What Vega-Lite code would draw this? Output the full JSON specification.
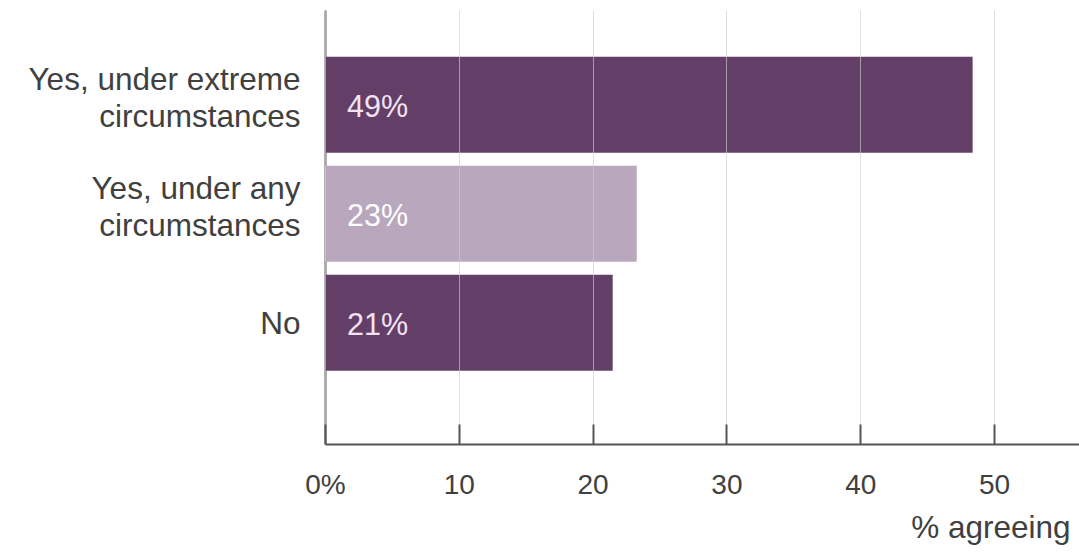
{
  "$schema": "https://vega.github.io/schema/vega-lite/v6.json",
  "width": 754,
  "height": 434,
  "autosize": {"type": "none"},
  "padding": {"left": 325, "top": 10, "right": 0, "bottom": 112},
  "background": "white",
  "config": {"view": {"stroke": null}, "font": "Liberation Sans"},
  "data": {
    "values": [
      {"answer": "Yes, under extreme circumstances", "pct": 48.4, "label": "49%"},
      {"answer": "Yes, under any circumstances", "pct": 23.3, "label": "23%"},
      {"answer": "No", "pct": 21.5, "label": "21%"}
    ]
  },
  "encoding": {
    "y": {
      "field": "answer",
      "type": "nominal",
      "sort": null,
      "scale": {"paddingInner": 0.12, "paddingOuter": 0.55, "align": 0.39},
      "axis": {
        "title": null,
        "ticks": false,
        "domainColor": "#666666",
        "domainWidth": 2,
        "labelPadding": 25,
        "labelFontSize": 31.5,
        "labelColor": "#404040",
        "labelLineHeight": 37,
        "labelLimit": 400,
        "labelOffset": {"condition": {"test": "datum.value != 'No'", "value": -24}, "value": 2},
        "labelExpr": "datum.value == 'Yes, under extreme circumstances' ? ['Yes, under extreme', 'circumstances'] : datum.value == 'Yes, under any circumstances' ? ['Yes, under any', 'circumstances'] : datum.value"
      }
    }
  },
  "layer": [
    {
      "mark": {"type": "bar"},
      "encoding": {
        "x": {
          "field": "pct",
          "type": "quantitative",
          "scale": {"domain": [0, 56.35], "nice": false},
          "axis": {
            "values": [0, 10, 20, 30, 40, 50],
            "labelExpr": "datum.value == 0 ? '0%' : datum.label",
            "labelFlush": false,
            "tickSize": -20,
            "tickColor": "#555555",
            "tickWidth": 2,
            "domainColor": "#555555",
            "domainWidth": 2,
            "grid": true,
            "gridColor": "#cccccc",
            "gridOpacity": 0.65,
            "zindex": 1,
            "labelFontSize": 28,
            "labelColor": "#404040",
            "labelPadding": 47,
            "title": "% agreeing",
            "titleFontSize": 31.5,
            "titleFontWeight": "normal",
            "titleColor": "#404040",
            "titleAnchor": "end",
            "titleAlign": "right",
            "titleX": 745,
            "titleY": 93,
            "titleBaseline": "alphabetic"
          }
        },
        "color": {
          "condition": {"test": "datum.answer == 'Yes, under any circumstances'", "value": "#b9a7bd"},
          "value": "#633f68"
        }
      }
    },
    {
      "mark": {"type": "text", "align": "left", "baseline": "middle", "dx": 22, "dy": 3, "fontSize": 30.5},
      "encoding": {
        "x": {"datum": 0, "type": "quantitative"},
        "text": {"field": "label"},
        "color": {
          "condition": {"test": "datum.answer == 'Yes, under any circumstances'", "value": "#ffffff"},
          "value": "#f3e3f2"
        }
      }
    }
  ]
}
